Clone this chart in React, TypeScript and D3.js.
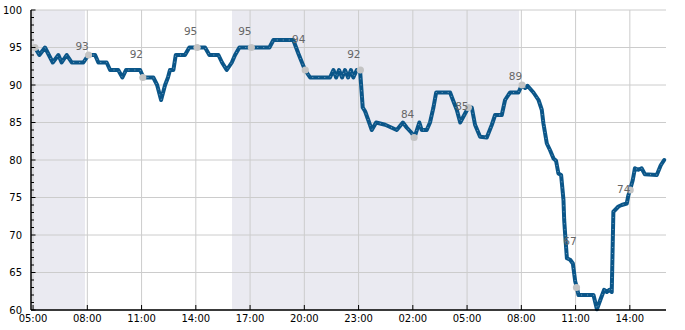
import React from "react";
import * as d3 from "d3";

// hours since day-1 00:00
const seriesHours = [5.11,5.35,5.66,6.09,6.40,6.58,6.86,7.14,7.78,8.06,8.43,8.61,9.07,9.26,9.71,9.94,10.14,10.92,11.10,11.65,11.86,12.08,12.30,12.46,12.57,12.76,12.89,13.40,13.64,14.51,14.75,15.25,15.45,15.71,15.99,16.17,16.41,18.07,18.29,19.39,19.67,19.87,20.04,20.32,21.42,21.61,21.76,21.92,22.09,22.25,22.42,22.58,22.71,22.90,23.08,23.23,23.36,23.54,23.73,23.97,24.47,25.11,25.45,25.67,25.94,26.09,26.36,26.49,26.77,26.95,27.14,27.29,28.06,28.25,28.43,28.62,28.89,29.07,29.26,29.44,29.72,30.09,30.37,30.55,30.92,31.10,31.29,31.38,31.84,32.03,32.21,32.34,32.67,32.95,33.13,33.22,33.41,33.59,33.78,33.92,34.05,34.20,34.33,34.37,34.42,34.52,34.70,34.85,34.98,35.07,35.16,35.99,36.18,36.36,36.58,36.73,36.87,37.00,37.09,37.37,37.55,37.83,37.92,38.01,38.16,38.28,38.47,38.65,38.83,39.49,39.71,39.90];
const seriesValues = [95,94,95,93,94,93,94,93,93,94,94,93,93,92,92,91,92,92,91,91,90,88,90,91,92,92,94,94,95,95,94,94,93,92,93,94,95,95,96,96,94.2,93,92,91,91,92,91,92,91,92,91,92,91,92,92,87,86.5,85.3,84,85,84.7,84,85,84.3,83.6,83,85,84,84,85,87,89,89,87.8,86.7,85,86.2,87,87,84.7,83.1,83,84.7,86,86,88,88.7,89,89,90,89.6,89.9,89,88,86.7,84.9,82.2,81.3,80.2,79.9,78.2,78,74.7,72,70.2,66.9,66.7,66.2,63.8,63,62,62,60.1,61.3,62.7,62.4,62.7,62.4,73.1,73.8,74,74.2,75.3,76,77.3,78.9,78.7,78.9,78.1,78,79.3,80];

const markerHours = [5.1,8.07,11.07,14.07,17.07,20.05,23.1,26.07,29.07,32.04,35.05,38.02];
const markerValues = [95,94,91,95,95,92,92,83,87,90,63,76];
const markerLabels: (number | null)[] = [null,93,92,95,95,94,92,84,85,89,67,74];

const shadeStarts = [4.886, 16.0];
const shadeEnds = [7.87, 31.88];

const domainHours = [4.886, 40.0];
const yDomain = [60, 100];
const yMajorTicks = [60, 65, 70, 75, 80, 85, 90, 95, 100];

const base = new Date(2024, 0, 1, 0, 0, 0).getTime();
const toDate = (h: number) => new Date(base + h * 3600e3);

export default function App() {
  const W = 685, H = 330;
  const m = { left: 31, right: 19, top: 10, bottom: 20 };
  const x = d3.scaleTime().domain(domainHours.map(toDate)).range([m.left, W - m.right]);
  const y = d3.scaleLinear().domain(yDomain).range([H - m.bottom, m.top]);
  const xTicks = x.ticks(d3.timeHour.every(1)!).filter((d) => d.getHours() % 3 === 2);
  const fmt = d3.timeFormat("%H:%M");
  const minor = d3.range(yDomain[0], yDomain[1] + 1, 1);
  const data = seriesHours.map((h, i) => [toDate(h), seriesValues[i]] as [Date, number]);
  const line = d3.line<[Date, number]>().x((d) => x(d[0])).y((d) => y(d[1]));
  const path = line(data) || "";
  const font = "DejaVu Sans";

  return (
    <svg width={W} height={H} style={{ position: "absolute", left: 0, top: 0, background: "#fff" }} fontFamily={font}>
      {shadeStarts.map((s, i) => (
        <rect key={"s" + i} x={x(toDate(s))} y={m.top} width={x(toDate(shadeEnds[i])) - x(toDate(s))} height={H - m.bottom - m.top} fill="#eaeaf1" />
      ))}
      {yMajorTicks.map((t) => (
        <line key={"gy" + t} x1={m.left} x2={W - m.right} y1={y(t)} y2={y(t)} stroke="#cccccc" strokeWidth={1} />
      ))}
      {xTicks.map((t, i) => (
        <line key={"gx" + i} x1={x(t)} x2={x(t)} y1={m.top} y2={H - m.bottom} stroke="#cccccc" strokeWidth={1} />
      ))}
      <path d={path} fill="none" stroke="#0b5689" strokeWidth={4} strokeLinejoin="round" strokeLinecap="round" />
      <path d={path} fill="none" stroke="#ffffff" strokeOpacity={0.55} strokeWidth={0.8} strokeDasharray="1 5" />
      {markerHours.map((h, i) => (
        <circle key={"m" + i} cx={x(toDate(h))} cy={y(markerValues[i])} r={3.6} fill="#c4c4c4" />
      ))}
      {markerHours.map((h, i) =>
        markerLabels[i] == null ? null : (
          <text key={"l" + i} x={x(toDate(h)) - 6.5} y={y(markerLabels[i] as number) - 12.5} textAnchor="middle" fontSize={10.5} fill="#666666">
            {markerLabels[i]}
          </text>
        )
      )}
      {/* axes */}
      <line x1={m.left} x2={m.left} y1={m.top} y2={H - m.bottom} stroke="#000" strokeWidth={1.5} />
      <line x1={m.left} x2={W - m.right} y1={H - m.bottom} y2={H - m.bottom} stroke="#000" strokeWidth={1.5} />
      {minor.map((t) => (
        <line key={"mt" + t} x1={m.left} x2={m.left + (t % 5 === 0 ? 4.5 : 3)} y1={y(t)} y2={y(t)} stroke="#000" strokeWidth={1} />
      ))}
      {yMajorTicks.map((t) => (
        <text key={"yl" + t} x={m.left - 9} y={y(t)} dy="0.35em" textAnchor="end" fontSize={10} fill="#000">
          {t}
        </text>
      ))}
      {xTicks.map((t, i) => (
        <g key={"xt" + i}>
          <line x1={x(t)} x2={x(t)} y1={H - m.bottom} y2={H - m.bottom - 5} stroke="#000" strokeWidth={1} />
          <text x={x(t)} y={H - m.bottom + 12} textAnchor="middle" fontSize={10} fill="#000">
            {fmt(t)}
          </text>
        </g>
      ))}
    </svg>
  );
}
